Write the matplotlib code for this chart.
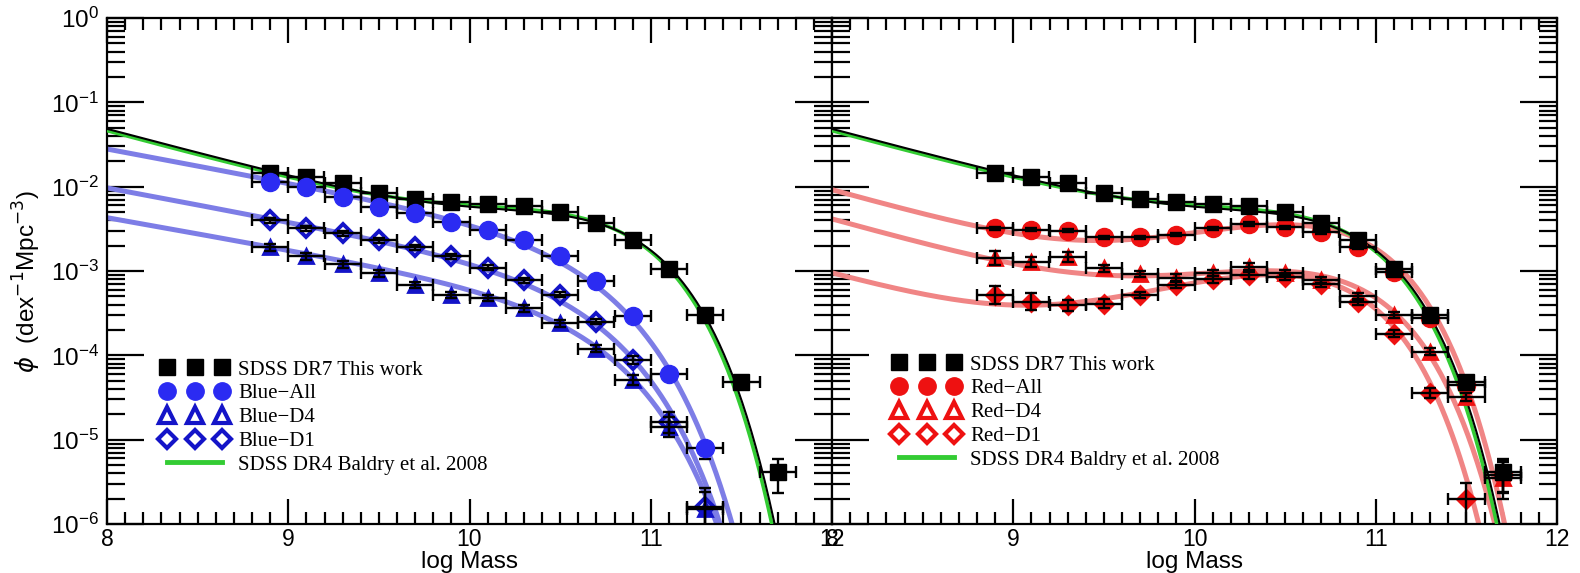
import numpy as np
import matplotlib
matplotlib.use("Agg")
import matplotlib.pyplot as plt
from matplotlib.lines import Line2D
from matplotlib.ticker import LogLocator, NullFormatter, MultipleLocator

plt.rcParams["font.family"] = ["Liberation Sans", "DejaVu Sans"]
plt.rcParams["mathtext.fontset"] = "dejavusans"

# ---------------- stellar mass bins (log M) ----------------
mass_all = [8.9, 9.1, 9.3, 9.5, 9.7, 9.9, 10.1, 10.3, 10.5, 10.7, 10.9, 11.1, 11.3, 11.5, 11.7]
mass_blue = mass_all[:13]
mass_red_d1 = mass_all[:14]

# ---------------- SDSS DR7 (this work), all galaxies ----------------
phi_sdss = [0.0145, 0.013, 0.011, 0.0084, 0.0071, 0.0066, 0.0062, 0.0059, 0.0050,
            0.0037, 0.0023, 0.00105, 3.0e-4, 4.8e-5, 4.1e-6]
lo_sdss = [0.02] * 12 + [0.03, 0.05, 0.24]
hi_sdss = [0.02] * 12 + [0.03, 0.05, 0.16]

# ---------------- blue galaxies ----------------
phi_blue_all = [0.0114, 0.010, 0.0076, 0.0057, 0.0049, 0.0038, 0.0031, 0.0023, 0.0015,
                7.6e-4, 2.9e-4, 6.0e-5, 8.0e-6]
lo_blue_all = [0.02] * 11 + [0.04, 0.13]
hi_blue_all = [0.02] * 11 + [0.04, 0.03]

phi_blue_d4 = [0.0019, 0.0015, 0.0012, 9.4e-4, 6.8e-4, 5.2e-4, 4.8e-4, 3.6e-4, 2.4e-4,
               1.2e-4, 5.1e-5, 1.4e-5, 1.5e-6]
lo_blue_d4 = [0.04] * 10 + [0.06, 0.12, 0.6]
hi_blue_d4 = [0.04] * 10 + [0.06, 0.12, 0.2]

phi_blue_d1 = [0.0040, 0.0032, 0.0028, 0.0023, 0.0019, 0.0015, 0.0011, 7.8e-4, 5.2e-4,
               2.5e-4, 8.8e-5, 1.6e-5, 1.6e-6]
lo_blue_d1 = [0.03] * 10 + [0.05, 0.12, 0.6]
hi_blue_d1 = [0.03] * 10 + [0.05, 0.12, 0.22]

# ---------------- red galaxies ----------------
phi_red_all = [0.0032, 0.0031, 0.0030, 0.0025, 0.0025, 0.0027, 0.0032, 0.0036, 0.0033,
               0.0029, 0.0019, 9.8e-4, 2.8e-4, 4.5e-5, 3.8e-6]
lo_red_all = [0.02] * 13 + [0.05, 0.2]
hi_red_all = [0.02] * 13 + [0.05, 0.15]

phi_red_d4 = [1.42e-3, 1.28e-3, 1.47e-3, 1.08e-3, 9.2e-4, 8.3e-4, 9.5e-4, 1.12e-3, 9.5e-4,
              7.8e-4, 5.0e-4, 3.0e-4, 1.1e-4, 3.2e-5, 3.5e-6]
lo_red_d4 = [0.08, 0.06, 0.06] + [0.04] * 10 + [0.05, 0.25]
hi_red_d4 = [0.08, 0.06, 0.06] + [0.04] * 10 + [0.05, 0.2]

phi_red_d1 = [5.2e-4, 4.3e-4, 3.9e-4, 4.1e-4, 5.2e-4, 6.8e-4, 8.0e-4, 8.9e-4, 8.5e-4,
              7.1e-4, 4.3e-4, 1.8e-4, 3.6e-5, 2.0e-6]
lo_red_d1 = [0.11, 0.10, 0.07, 0.05] + [0.04] * 8 + [0.06, 0.6]
hi_red_d1 = [0.11, 0.10, 0.07, 0.05] + [0.04] * 8 + [0.06, 0.19]

# ---------------- Schechter fits: (log M*, [phi*], [alpha]) ----------------
fit_sdss = (10.66, [4.0e-3, 0.64e-3], [-0.40, -1.57])
fit_baldry = (10.648, [4.26e-3, 0.58e-3], [-0.46, -1.58])
fit_blue_all = (10.60, [1.11e-3], [-1.40])
fit_blue_d4 = (10.63, [1.87e-4], [-1.38])
fit_blue_d1 = (10.60, [3.84e-4], [-1.40])
fit_red_all = (10.68, [3.81e-3, 9.76e-5], [-0.30, -1.60])
fit_red_d4 = (10.70, [9.95e-4, 4.27e-5], [-0.40, -1.60])
fit_red_d1 = (10.60, [9.95e-4, 1.10e-5], [-0.30, -1.60])

BLUE_FILL = "#2b2bf2"
BLUE_EDGE = "#1414c8"
BLUE_FIT = "#7d7de6"
RED = "#ee1111"
RED_FIT = "#f08585"
GREEN = "#33cc33"


def schechter(logm, params):
    logm_star, phi_star, alpha = params
    x = 10.0 ** (logm - logm_star)
    total = sum(p * x ** (a + 1.0) for p, a in zip(phi_star, alpha))
    return np.log(10.0) * np.exp(-x) * total


def draw_fit(ax, params, color, lw, z):
    grid = np.linspace(8.0, 12.0, 800)
    ax.plot(grid, schechter(grid, params), color=color, lw=lw, zorder=z,
            solid_capstyle="butt")


def draw_points(ax, x, y, lo, hi, marker, ms, face, edge, mew, on_top):
    y = np.asarray(y)
    lo = np.asarray(lo)
    hi = np.asarray(hi)
    yerr = [y - y * 10.0 ** (-lo), y * 10.0 ** hi - y]
    ax.errorbar(x, y, xerr=0.1, yerr=yerr, fmt="none", ecolor="k",
                elinewidth=1.7, capsize=4, capthick=1.7, zorder=5)
    ax.plot(x, y, ls="none", marker=marker, ms=ms, mfc=face, mec=edge,
            mew=mew, zorder=6 if on_top else 4)


fig = plt.figure(figsize=(15.8, 5.73), dpi=100)
W, H = 1580.0, 573.0
axL = fig.add_axes([107 / W, 1 - 524 / H, 725 / W, 506 / H])
axR = fig.add_axes([832 / W, 1 - 524 / H, 725 / W, 506 / H])

for ax in (axL, axR):
    ax.set_yscale("log")
    ax.set_xlim(8, 12)
    ax.set_ylim(1e-6, 1)
    ax.xaxis.set_major_locator(MultipleLocator(1))
    ax.xaxis.set_minor_locator(MultipleLocator(0.1))
    ax.yaxis.set_major_locator(LogLocator(base=10, numticks=10))
    ax.yaxis.set_minor_locator(LogLocator(base=10, subs=np.arange(2, 10), numticks=100))
    ax.yaxis.set_minor_formatter(NullFormatter())
    ax.tick_params(which="both", direction="in", top=True, right=True, width=1.6)
    ax.tick_params(axis="x", which="major", length=18, pad=3, labelsize=16.5)
    ax.tick_params(axis="x", which="minor", length=8.5)
    ax.tick_params(axis="y", which="major", length=26.5, pad=6, labelsize=17.5)
    ax.tick_params(axis="y", which="minor", length=13)
    for s in ax.spines.values():
        s.set_linewidth(1.6)
    ax.set_xlabel("log Mass", fontsize=17.5, labelpad=0)

axR.tick_params(labelleft=False)
axL.set_ylabel(r"$\phi$  (dex$^{-1}$Mpc$^{-3}$)", fontsize=17.5)
axL.yaxis.set_label_coords(-0.088, 0.48)

# ---------------- left panel: blue galaxies ----------------
draw_fit(axL, fit_blue_all, BLUE_FIT, 3.6, 2)
draw_fit(axL, fit_blue_d4, BLUE_FIT, 3.6, 2)
draw_fit(axL, fit_blue_d1, BLUE_FIT, 3.6, 2)
draw_fit(axL, fit_baldry, GREEN, 2.6, 3)
draw_fit(axL, fit_sdss, "k", 1.5, 3.5)

draw_points(axL, mass_all, phi_sdss, lo_sdss, hi_sdss, "s", 12, "k", "k", 1, True)
draw_points(axL, mass_blue, phi_blue_all, lo_blue_all, hi_blue_all, "o", 13,
            BLUE_FILL, BLUE_FILL, 1, True)
draw_points(axL, mass_blue, phi_blue_d1, lo_blue_d1, hi_blue_d1, "D", 9,
            "none", BLUE_EDGE, 2.8, False)
draw_points(axL, mass_blue, phi_blue_d4, lo_blue_d4, hi_blue_d4, "^", 10,
            BLUE_EDGE, BLUE_EDGE, 2.0, False)

# ---------------- right panel: red galaxies ----------------
draw_fit(axR, fit_red_all, RED_FIT, 3.6, 2)
draw_fit(axR, fit_red_d4, RED_FIT, 3.6, 2)
draw_fit(axR, fit_red_d1, RED_FIT, 3.6, 2)
draw_fit(axR, fit_baldry, GREEN, 2.6, 3)
draw_fit(axR, fit_sdss, "k", 1.5, 3.5)

draw_points(axR, mass_all, phi_red_all, lo_red_all, hi_red_all, "o", 13,
            RED, RED, 1, False)
draw_points(axR, mass_all, phi_sdss, lo_sdss, hi_sdss, "s", 12, "k", "k", 1, True)
draw_points(axR, mass_all, phi_red_d4, lo_red_d4, hi_red_d4, "^", 10,
            RED, RED, 2.0, False)
draw_points(axR, mass_red_d1, phi_red_d1, lo_red_d1, hi_red_d1, "D", 9,
            RED, RED, 2.0, False)


def make_legend(ax, color_fill, color_edge, names, anchor):
    handles = [
        Line2D([], [], ls="none", marker="s", ms=11, mfc="k", mec="k"),
        Line2D([], [], ls="none", marker="o", ms=12.5, mfc=color_fill, mec=color_fill),
        Line2D([], [], ls="none", marker="^", ms=11, mfc="none", mec=color_edge, mew=3),
        Line2D([], [], ls="none", marker="D", ms=9, mfc="none", mec=color_edge, mew=3),
        Line2D([], [], color=GREEN, lw=3.5),
    ]
    leg = ax.legend(handles, names, numpoints=3, loc="upper left",
                    bbox_to_anchor=anchor, borderaxespad=0, borderpad=0,
                    frameon=False, handlelength=3.25, handletextpad=0.45,
                    labelspacing=0.2, prop={"family": "Liberation Serif", "size": 15})
    leg.set_zorder(10)


make_legend(axL, BLUE_FILL, BLUE_EDGE,
            ["SDSS DR7 This work", "Blue\u2212All", "Blue\u2212D4", "Blue\u2212D1",
             "SDSS DR4 Baldry et al. 2008"], (0.0745, 0.324))
make_legend(axR, RED, RED,
            ["SDSS DR7 This work", "Red\u2212All", "Red\u2212D4", "Red\u2212D1",
             "SDSS DR4 Baldry et al. 2008"], (0.084, 0.334))

fig.savefig("out.png", dpi=100)
